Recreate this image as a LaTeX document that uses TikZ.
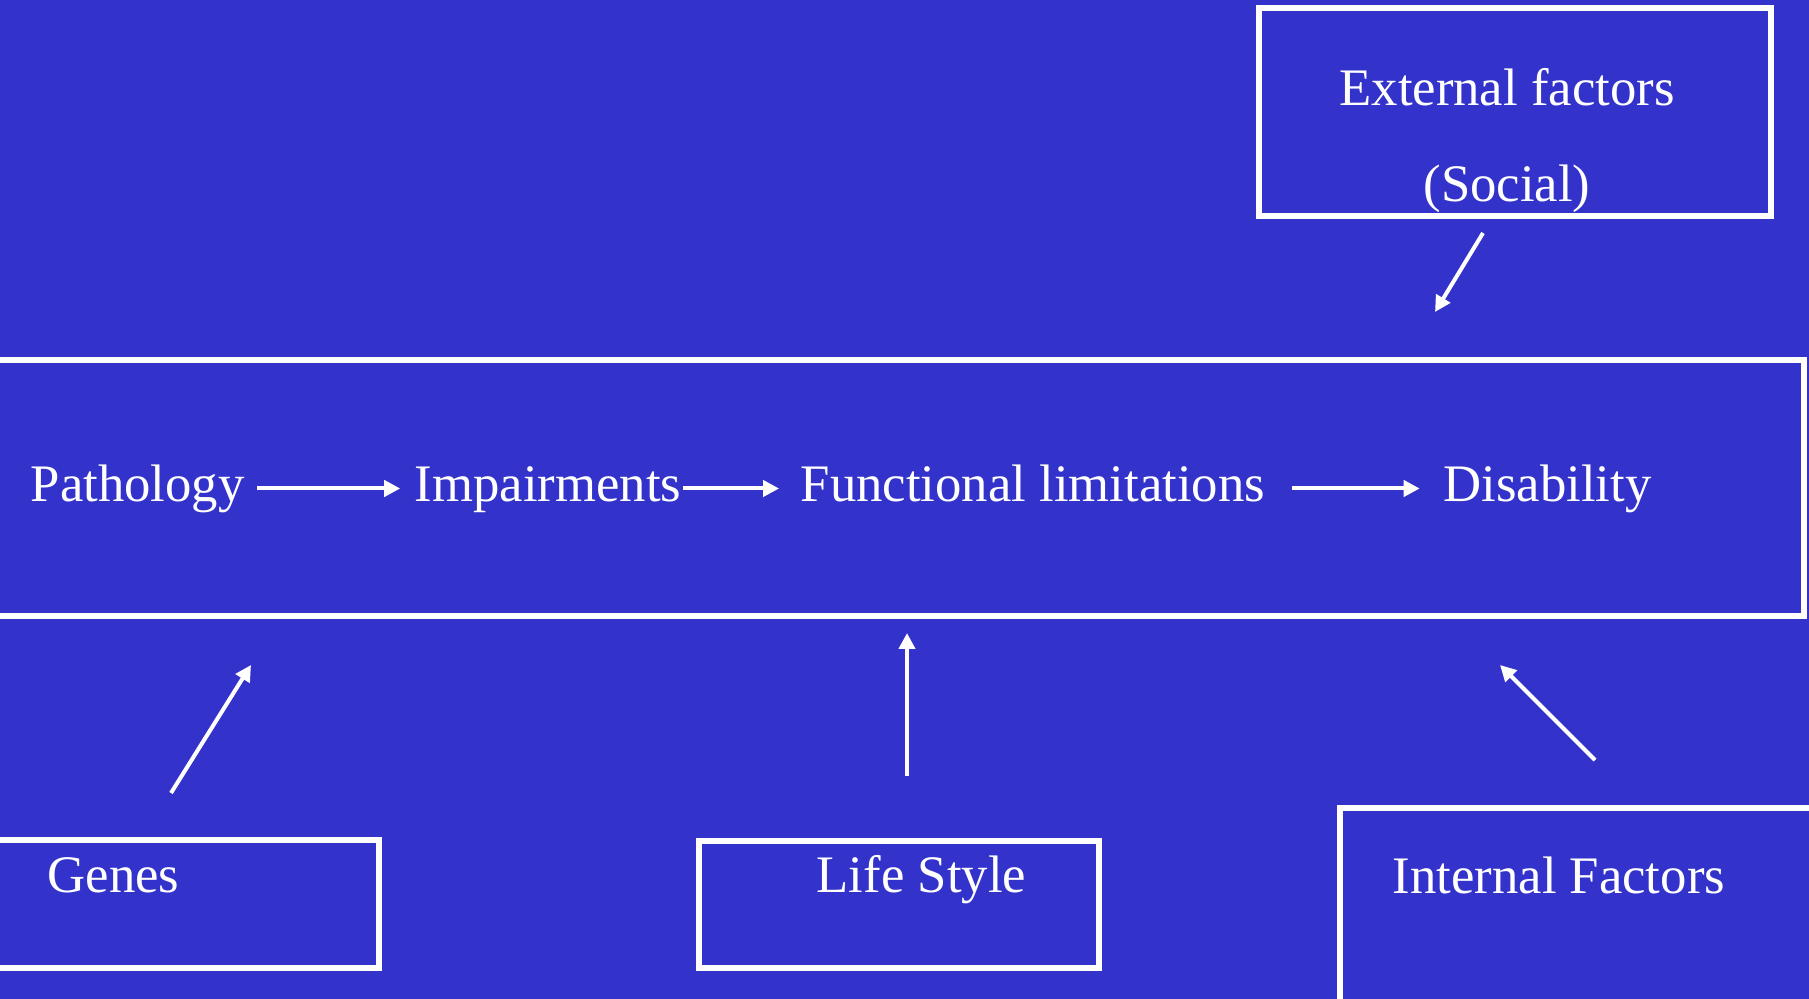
\documentclass[tikz,border=0pt]{standalone}
\usepackage{fontspec}
\setmainfont{Liberation Serif}
\usepackage{xcolor}
\usepackage{tikz}
\usetikzlibrary{arrows.meta, positioning}

\definecolor{slideblue}{RGB}{51,51,204}

\begin{document}
\begin{tikzpicture}[
  x=0.1mm, y=-0.1mm,
  font=\fontsize{15}{18}\selectfont,
  frame/.style={rectangle, draw=white, line width=0.6mm, inner sep=0pt},
  txt/.style={text=white, inner sep=0pt},
  rowtxt/.style={txt, text height=4mm, text depth=1.3mm},
  arr/.style={draw=white, line width=0.4mm, -{Triangle[length=1.6mm, width=1.6mm]}},
]

\useasboundingbox (0,0) rectangle (1809,999);
\fill[slideblue] (0,0) rectangle (1809,999);

\node[frame, minimum width=51.2mm, minimum height=20.8mm] (extbox) at (1515,112) {};
\node[txt, align=center, font=\fontsize{15}{27.3}\selectfont] (ext) at (1507,141)
  {External factors\\(Social)};

\node[frame, minimum width=181.9mm, minimum height=25.6mm] (flow) at (894,488) {};
\node[rowtxt, anchor=base west]     (path) at (30,502) {Pathology};
\node[rowtxt, right=16.9mm of path] (imp)  {Impairments};
\node[rowtxt, right=11.8mm of imp]  (func) {Functional limitations};
\node[rowtxt, right=17.7mm of func] (dis)  {Disability};

\node[frame, minimum width=40.05mm, minimum height=12.8mm] (genbox) at (179,904) {};
\node[txt, anchor=base west] (gen) at (47,892) {Genes};
\node[frame, minimum width=40mm, minimum height=12.7mm] (lifebox) at (899.25,904.5) {};
\node[txt, anchor=base west] (life) at (816,892) {Life Style};
\node[frame, minimum width=49.05mm, minimum height=21.2mm] (intbox) at (1584.75,914) {};
\node[txt, anchor=base west] (int) at (1392,893) {Internal Factors};

\coordinate (extfrom) at (1483,233);  \coordinate (extto) at (1435,312);
\coordinate (genfrom) at (171,793);   \coordinate (gento) at (251,665);
\coordinate (lifefrom) at (907,776);  \coordinate (lifeto) at (907,633);
\coordinate (intfrom) at (1595,760);  \coordinate (intto) at (1500,665);

\draw[arr, shorten <=1.2mm, shorten >=1.4mm] (path) -- (imp);
\draw[arr, shorten <=0.1mm, shorten >=2.1mm] (imp)  -- (func);
\draw[arr, shorten <=2.6mm, shorten >=2.3mm] (func) -- (dis);

\draw[arr] (extfrom)  -- (extto);
\draw[arr] (genfrom)  -- (gento);
\draw[arr] (lifefrom) -- (lifeto);
\draw[arr] (intfrom)  -- (intto);

\end{tikzpicture}
\end{document}
